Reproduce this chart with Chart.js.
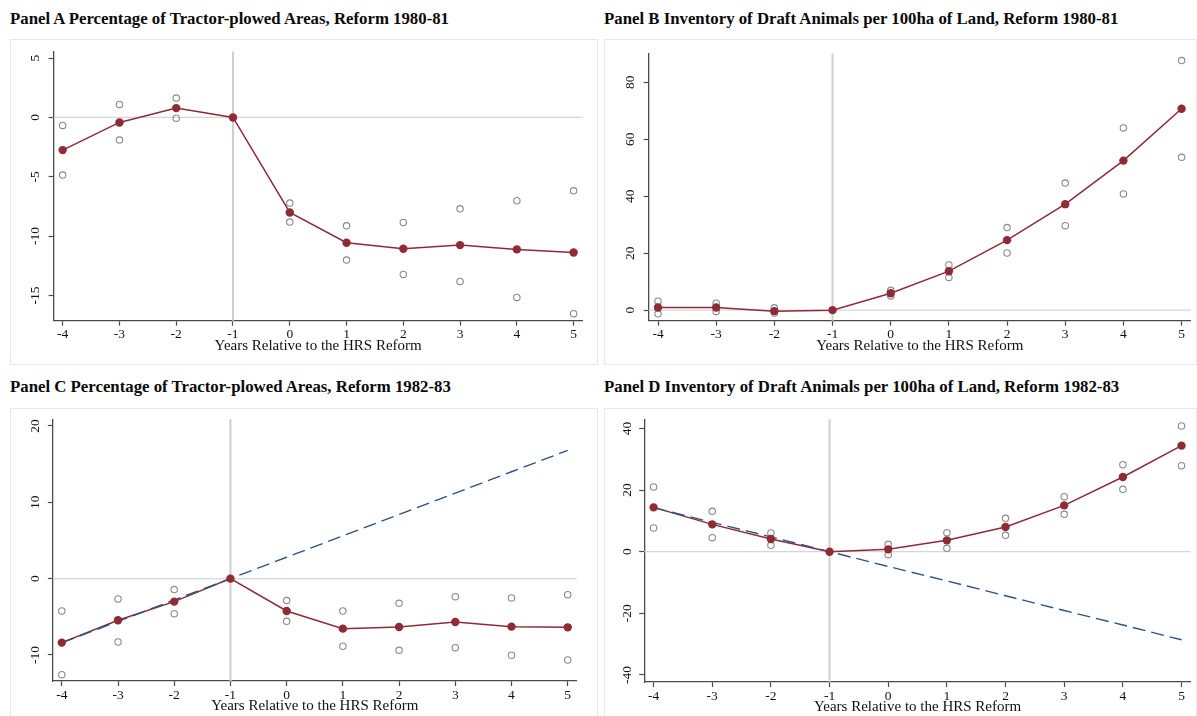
<!DOCTYPE html>
<html>
<head>
<meta charset="utf-8">
<script src="https://cdn.jsdelivr.net/npm/chart.js@4.4.1/dist/chart.umd.min.js"></script>
<style>
  html, body { margin: 0; padding: 0; background: #fff; }
  body { width: 1197px; height: 716px; position: relative; overflow: hidden;
         font-family: "Liberation Serif", "Times New Roman", serif; }
  .title { position: absolute; font-weight: bold; font-size: 16.8px; line-height: 20px;
           color: #0a0a0a; white-space: nowrap; }
  .box { position: absolute; border: 1px solid #e3eaea; box-sizing: border-box; }
  canvas { position: absolute; }
</style>
</head>
<body>
<div class="title" style="left:10px;top:9px">Panel A Percentage of Tractor-plowed Areas, Reform 1980-81</div>
<div class="title" style="left:604px;top:9px">Panel B Inventory of Draft Animals per 100ha of Land, Reform 1980-81</div>
<div class="title" style="left:10px;top:377px">Panel C Percentage of Tractor-plowed Areas, Reform 1982-83</div>
<div class="title" style="left:604px;top:377px">Panel D Inventory of Draft Animals per 100ha of Land, Reform 1982-83</div>

<div class="box" style="left:10px;top:39px;width:588px;height:326px"></div>
<div class="box" style="left:604px;top:39px;width:593px;height:326px"></div>
<div class="box" style="left:10px;top:408px;width:588px;height:320px"></div>
<div class="box" style="left:604px;top:408px;width:593px;height:320px"></div>

<canvas id="panelA" width="587" height="325" style="left:10px;top:39px"></canvas>
<canvas id="panelB" width="592" height="325" style="left:604px;top:39px"></canvas>
<canvas id="panelC" width="587" height="308" style="left:10px;top:408px"></canvas>
<canvas id="panelD" width="592" height="308" style="left:604px;top:408px"></canvas>

<script>
// Event-time axis: years relative to the reform
const years = [-4, -3, -2, -1, 0, 1, 2, 3, 4, 5];
const xTicks = [-4, -3, -2, -1, 0, 1, 2, 3, 4, 5];

// Panel A: tractor-plowed share, reform 1980-81 (estimate and 95% CI bounds)
const tractor8081 = [-2.75, -0.42, 0.79, 0, -8.01, -10.56, -11.07, -10.76, -11.12, -11.38];
const tractor8081Hi = [-0.67, 1.10, 1.63, null, -7.22, -9.13, -8.85, -7.70, -7.02, -6.18];
const tractor8081Lo = [-4.86, -1.91, -0.06, null, -8.82, -12.02, -13.23, -13.82, -15.17, -16.54];
const yTicksA = [-15, -10, -5, 0, 5];

// Panel B: draft animals per 100ha, reform 1980-81
const animals8081 = [0.93, 0.93, -0.35, 0, 5.91, 13.68, 24.58, 37.22, 52.52, 70.72];
const animals8081Hi = [3.13, 2.43, 0.81, null, 6.96, 15.88, 28.99, 44.64, 64.0, 87.65];
const animals8081Lo = [-1.28, -0.46, -1.04, null, 4.99, 11.48, 20.06, 29.68, 40.81, 53.68];
const yTicksB = [0, 20, 40, 60, 80];

// Panel C: tractor-plowed share, reform 1982-83, with pre-trend extrapolation
const tractor8283 = [-8.38, -5.46, -3.01, 0, -4.24, -6.55, -6.33, -5.68, -6.29, -6.38];
const tractor8283Hi = [-4.24, -2.66, -1.44, null, -2.88, -4.24, -3.23, -2.36, -2.53, -2.10];
const tractor8283Lo = [-12.58, -8.30, -4.59, null, -5.59, -8.86, -9.39, -9.04, -10.04, -10.66];
const tractor8283Trend = [-8.4, -5.6, -2.8, 0, 2.8, 5.6, 8.4, 11.2, 14.0, 16.8];
const yTicksC = [-10, 0, 10, 20];

// Panel D: draft animals per 100ha, reform 1982-83, with pre-trend extrapolation
const animals8283 = [14.39, 8.87, 4.11, 0, 0.76, 3.68, 8.01, 15.04, 24.24, 34.42];
const animals8283Hi = [21.0, 13.1, 6.06, null, 2.38, 6.17, 10.82, 17.86, 28.25, 40.80];
const animals8283Lo = [7.68, 4.55, 2.06, null, -0.97, 1.08, 5.30, 12.12, 20.24, 27.92];
const animals8283Trend = [14.3, 9.5, 4.8, 0, -4.8, -9.5, -14.3, -19.1, -23.8, -28.6];
const yTicksD = [-40, -20, 0, 20, 40];

const xTitle = 'Years Relative to the HRS Reform';

const SERIF = '"Liberation Serif", "Times New Roman", serif';
const RED = '#8f2b36';
const BLUE = '#2b5384';
const GRAY = '#8a8a8a';
const AXIS = '#4a4a4a';
const TEXT = '#111';

// Zero line and reform-year line behind the data
const refLines = {
  id: 'refLines',
  beforeDatasetsDraw(chart, args, opts) {
    const { ctx, chartArea: a, scales: { x, y } } = chart;
    ctx.save();
    const y0 = y.getPixelForValue(opts.yLine);
    ctx.strokeStyle = '#d6d6d6';
    ctx.lineWidth = 1.2;
    ctx.beginPath(); ctx.moveTo(a.left, y0); ctx.lineTo(a.right, y0); ctx.stroke();
    const x0 = x.getPixelForValue(opts.xLine);
    ctx.strokeStyle = '#cfcfcf';
    ctx.lineWidth = 2;
    ctx.beginPath(); ctx.moveTo(x0, a.top); ctx.lineTo(x0, a.bottom); ctx.stroke();
    ctx.restore();
  }
};

function pts(values) {
  return years.map((x, i) => ({ x: x, y: values[i] }));
}

function panel(id, o) {
  const datasets = [
    { data: pts(o.hi), showLine: false, pointRadius: 3.2, pointBorderWidth: 1.1,
      pointBackgroundColor: 'rgba(0,0,0,0)', pointBorderColor: GRAY, order: 5 },
    { data: pts(o.lo), showLine: false, pointRadius: 3.2, pointBorderWidth: 1.1,
      pointBackgroundColor: 'rgba(0,0,0,0)', pointBorderColor: GRAY, order: 5 },
    { data: pts(o.est), borderColor: RED, borderWidth: 1.5, pointRadius: 0, tension: 0, order: 4 },
    { data: pts(o.est), showLine: false, pointRadius: 4.2, pointBorderWidth: 0,
      pointBackgroundColor: RED, pointBorderColor: RED, order: 1 }
  ];
  if (o.trend) {
    datasets.push({ data: pts(o.trend), borderColor: BLUE, borderWidth: 1.4,
      borderDash: [13, 6], pointRadius: 0, tension: 0, order: 3 });
  }
  const gridOpts = { drawOnChartArea: false, drawTicks: true, tickLength: 5,
                     tickColor: AXIS, tickWidth: 1.2 };
  const borderOpts = { display: true, color: AXIS, width: 1.3 };
  new Chart(document.getElementById(id), {
    type: 'line',
    data: { datasets: datasets },
    plugins: [refLines],
    options: {
      responsive: false,
      animation: false,
      events: [],
      layout: { padding: o.pad },
      plugins: {
        legend: { display: false },
        tooltip: { enabled: false },
        refLines: { xLine: -1, yLine: 0 }
      },
      scales: {
        x: {
          type: 'linear', min: -4.16, max: 5.16,
          afterBuildTicks: s => { s.ticks = xTicks.map(v => ({ value: v })); },
          afterFit: s => { s.height = 34; },
          grid: gridOpts,
          border: borderOpts,
          ticks: { font: { family: SERIF, size: 13.5 }, color: TEXT, padding: 1,
                   minRotation: 0, maxRotation: 0, callback: v => String(v) },
          title: { display: true, text: xTitle, font: { family: SERIF, size: 15 },
                   color: TEXT, padding: { top: 0, bottom: 0 } }
        },
        y: {
          type: 'linear', min: o.ymin, max: o.ymax,
          afterBuildTicks: s => { s.ticks = o.yTicks.map(v => ({ value: v })); },
          afterFit: s => { s.width = o.yw; },
          grid: gridOpts,
          border: borderOpts,
          ticks: { font: { family: SERIF, size: 13.5 }, color: TEXT, padding: o.ypad,
                   minRotation: 90, maxRotation: 90, crossAlign: 'center',
                   callback: v => String(v) }
        }
      }
    }
  });
}

panel('panelA', { est: tractor8081, hi: tractor8081Hi, lo: tractor8081Lo,
  ymin: -17.13, ymax: 5.55, yTicks: yTicksA, yw: 43.6, ypad: 4.5,
  pad: { left: 0, top: 11.7, right: 14.3, bottom: 9.3 } });

panel('panelB', { est: animals8081, hi: animals8081Hi, lo: animals8081Lo,
  ymin: -3.71, ymax: 90.1, yTicks: yTicksB, yw: 44.7, ypad: 6.5,
  pad: { left: 0, top: 12, right: 3.3, bottom: 9.3 } });

panel('panelC', { est: tractor8283, hi: tractor8283Hi, lo: tractor8283Lo, trend: tractor8283Trend,
  ymin: -13.41, ymax: 20.87, yTicks: yTicksC, yw: 42.8, ypad: 3,
  pad: { left: 0, top: 11.3, right: 20.3, bottom: 1 } });

panel('panelD', { est: animals8283, hi: animals8283Hi, lo: animals8283Lo, trend: animals8283Trend,
  ymin: -42.3, ymax: 42.97, yTicks: yTicksD, yw: 40.2, ypad: 3,
  pad: { left: 0, top: 11.3, right: 4, bottom: 0 } });
</script>
</body>
</html>
